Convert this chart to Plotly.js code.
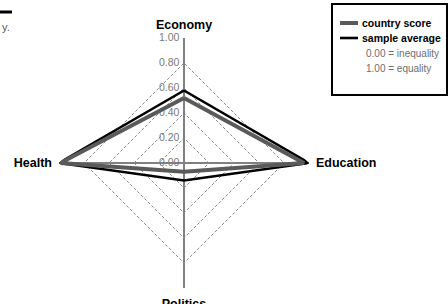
<!DOCTYPE html>
<html>
<head>
<meta charset="utf-8">
<script src="https://cdn.plot.ly/plotly-3.0.1.min.js"></script>
<style>
html,body{margin:0;padding:0;background:#fff;}
#chart{width:448px;height:304px;}
</style>
</head>
<body>
<div id="chart"></div>
<script>
// ---- data ----
var categories = ["Economy", "Education", "Politics", "Health"];
var countryScore = [0.52, 0.96, 0.07, 0.99];
var sampleAverage = [0.58, 1.00, 0.14, 1.00];
var seriesNames = ["country score", "sample average"];
var radialTicks = [0, 0.2, 0.4, 0.6, 0.8, 1.0];
var radialTickText = ["0.00", "0.20", "0.40", "0.60", "0.80", "1.00"];
var noteLines = ["0.00 = inequality", "1.00 = equality"];

function closeLoop(a){ return a.concat([a[0]]); }

var FONT = "'Liberation Sans', Arial, sans-serif";

var traces = [
  {
    type: "scatterpolar", mode: "lines", name: seriesNames[1],
    r: closeLoop(sampleAverage), theta: closeLoop(categories),
    line: {color: "#000000", width: 2.6}, showlegend: false, hoverinfo: "skip"
  },
  {
    type: "scatterpolar", mode: "lines", name: seriesNames[0],
    r: closeLoop(countryScore), theta: closeLoop(categories),
    line: {color: "#5a5a5a", width: 4}, showlegend: false, hoverinfo: "skip"
  }
];

var W = 448, H = 304;
var cx = 184, cy = 163, R = 125;

var layout = {
  width: W, height: H,
  margin: {l: 0, r: 0, t: 0, b: 0},
  paper_bgcolor: "#ffffff",
  plot_bgcolor: "#ffffff",
  showlegend: false,
  font: {family: FONT, color: "#000"},
  polar: {
    domain: {x: [(cx - R) / W, (cx + R) / W], y: [(H - cy - R) / H, (H - cy + R) / H]},
    bgcolor: "rgba(0,0,0,0)",
    gridshape: "linear",
    radialaxis: {
      range: [0, 1], angle: 90, side: "counterclockwise", tickangle: 90,
      tickvals: radialTicks, ticktext: radialTickText,
      showline: true, linecolor: "#808080", linewidth: 2,
      showgrid: true, gridcolor: "#8a8a8a", gridwidth: 1, griddash: "3px,2px",
      ticks: "", tickfont: {family: FONT, size: 10.5, color: "#7a7a7a"},
      layer: "below traces"
    },
    angularaxis: {
      rotation: 90, direction: "clockwise",
      categoryarray: categories, type: "category",
      showline: false,
      showgrid: true, gridcolor: "#808080", gridwidth: 2,
      ticks: "outside", ticklen: 4, tickcolor: "rgba(0,0,0,0)",
      tickfont: {family: FONT, size: 12.5, color: "#000", weight: "bold"},
      layer: "below traces"
    }
  },
  shapes: [
    // legend box
    {type: "rect", xref: "paper", yref: "paper", x0: 332 / W, x1: 447 / W, y0: 1 - 95 / H, y1: 1 - 4 / H,
     line: {color: "#000", width: 2}, fillcolor: "#fff"},
    {type: "line", xref: "paper", yref: "paper", x0: 340 / W, x1: 358 / W, y0: 1 - 23 / H, y1: 1 - 23 / H,
     line: {color: "#5a5a5a", width: 4}},
    {type: "line", xref: "paper", yref: "paper", x0: 340 / W, x1: 358 / W, y0: 1 - 38 / H, y1: 1 - 38 / H,
     line: {color: "#000", width: 2.6}},
    // cropped title rule at top left
    {type: "line", xref: "paper", yref: "paper", x0: 0, x1: 12 / W, y0: 1 - 12 / H, y1: 1 - 12 / H,
     line: {color: "#000", width: 3}}
  ],
  annotations: [
    {xref: "paper", yref: "paper", x: 360 / W, y: 1 - 23 / H, xanchor: "left", yanchor: "middle",
     text: "<b>" + seriesNames[0] + "</b>", showarrow: false, font: {family: FONT, size: 10.5, color: "#000"}},
    {xref: "paper", yref: "paper", x: 360 / W, y: 1 - 38 / H, xanchor: "left", yanchor: "middle",
     text: "<b>" + seriesNames[1] + "</b>", showarrow: false, font: {family: FONT, size: 10.5, color: "#000"}},
    {xref: "paper", yref: "paper", x: 364 / W, y: 1 - 54 / H, xanchor: "left", yanchor: "middle",
     text: noteLines[0], showarrow: false, font: {family: FONT, size: 10, color: "#6e6e6e"}},
    {xref: "paper", yref: "paper", x: 364 / W, y: 1 - 68 / H, xanchor: "left", yanchor: "middle",
     text: noteLines[1], showarrow: false, font: {family: FONT, size: 10, color: "#6e6e6e"}},
    {xref: "paper", yref: "paper", x: 0, y: 1 - 27 / H, xanchor: "left", yanchor: "middle",
     text: "y.", showarrow: false, font: {family: FONT, size: 11, color: "#555"}}
  ]
};

Plotly.newPlot("chart", traces, layout, {staticPlot: true, displayModeBar: false});
</script>
</body>
</html>
